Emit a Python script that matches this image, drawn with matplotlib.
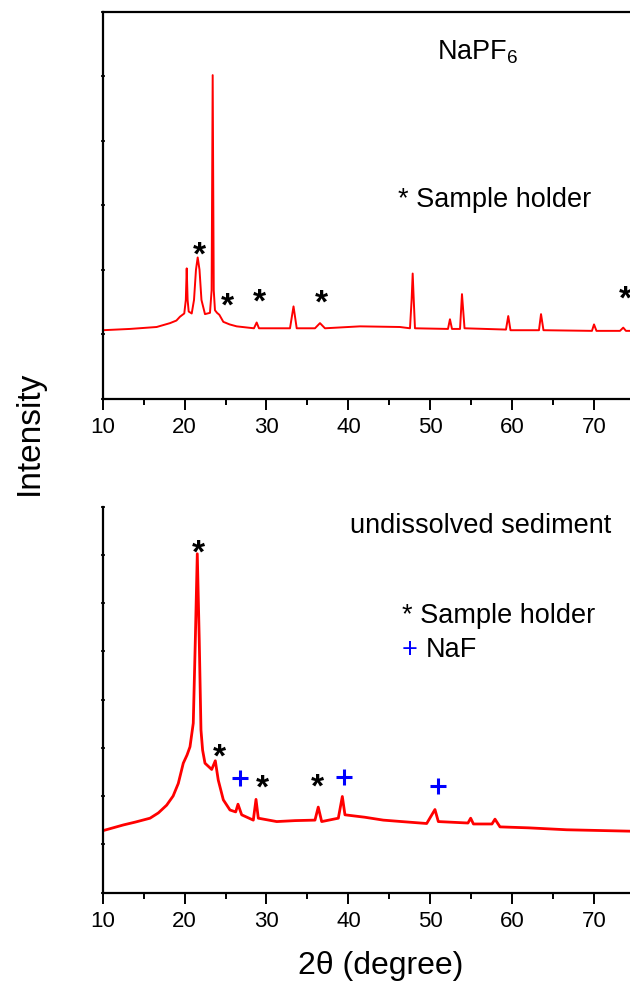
#!/usr/bin/env python3
# -*- coding: utf-8 -*-
"""
XRD patterns of NaPF6 and of the undissolved sediment, two stacked panels.
"""

import matplotlib
matplotlib.use('Agg')
import matplotlib.pyplot as plt
from matplotlib.ticker import MultipleLocator

plt.rcParams['font.family'] = ['Liberation Sans', 'DejaVu Sans']
plt.rcParams['mathtext.fontset'] = 'custom'
plt.rcParams['mathtext.rm'] = 'Liberation Sans'

# top panel: NaPF6 pattern (2theta, intensity in tick units)
top_x = [10.0, 13.33, 16.59, 18.22, 19.0, 19.44, 19.96, 20.15, 20.26, 20.37,
         20.5, 20.87, 21.15, 21.39, 21.6, 21.82, 22.06, 22.49, 23.1, 23.3,
         23.43, 23.56, 23.71, 23.96, 24.24, 24.73, 25.5, 26.36, 28.47, 28.8,
         29.08, 32.87, 33.3, 33.69, 35.92, 36.53, 37.14, 41.42, 46.3, 47.52,
         47.72, 47.85, 47.98, 48.13, 52.16, 52.4, 52.65, 53.63, 53.87, 54.18,
         59.24, 59.52, 59.79, 63.27, 63.52, 63.82, 69.74, 69.99, 70.29, 73.16,
         73.56, 73.89, 80.0]
top_y = [1.06, 1.08, 1.11, 1.17, 1.21, 1.27, 1.32, 1.53, 2.02, 1.53,
         1.35, 1.32, 1.53, 2.0, 2.19, 2.0, 1.53, 1.31, 1.33, 1.68,
         5.02, 1.68, 1.37, 1.33, 1.30, 1.19, 1.15, 1.12, 1.09, 1.18,
         1.09, 1.09, 1.43, 1.09, 1.09, 1.17, 1.09, 1.12, 1.11, 1.09,
         1.53, 1.94, 1.53, 1.09, 1.08, 1.23, 1.08, 1.08, 1.62, 1.09,
         1.07, 1.28, 1.06, 1.06, 1.31, 1.06, 1.05, 1.15, 1.05, 1.05,
         1.10, 1.05, 1.05]
top_star_x = [21.76, 25.18, 29.08, 36.74, 73.77]
top_star_y = [2.38, 1.59, 1.65, 1.63, 1.70]

# bottom panel: undissolved sediment
bot_x = [10.0, 12.52, 14.0, 15.78, 16.8, 17.81, 18.6, 19.23, 19.84, 20.3,
         20.66, 21.06, 21.31, 21.55, 21.79, 22.0, 22.2, 22.49, 23.31, 23.75,
         24.11, 24.73, 25.54, 26.24, 26.52, 26.97, 28.39, 28.72, 29.0, 31.25,
         33.5, 35.92, 36.32, 36.74, 38.77, 39.26, 39.58, 42.0, 44.26, 46.5,
         49.56, 50.57, 50.98, 54.6, 54.93, 55.27, 57.53, 57.9, 58.51, 62.0,
         66.65, 80.0]
bot_y = [1.28, 1.40, 1.46, 1.54, 1.65, 1.81, 2.0, 2.26, 2.68, 2.85,
         3.02, 3.51, 5.23, 7.02, 5.23, 3.37, 2.95, 2.68, 2.55, 2.73,
         2.33, 1.92, 1.71, 1.67, 1.83, 1.61, 1.50, 1.93, 1.54, 1.47,
         1.49, 1.50, 1.77, 1.47, 1.54, 1.99, 1.61, 1.56, 1.50, 1.47,
         1.43, 1.72, 1.47, 1.44, 1.54, 1.42, 1.42, 1.52, 1.36, 1.34,
         1.30, 1.25]
bot_star_x = [21.67, 24.24, 29.49, 36.25]
bot_star_y = [7.24, 3.02, 2.37, 2.38]
naf_x = [26.76, 39.5, 50.98]
naf_y = [2.37, 2.40, 2.21]

xticks_major = [10, 20, 30, 40, 50, 60, 70]

STAR_FS = 24


def style_axes(axes, ymax, top_spine):
    axes.set_xlim(10, 80)
    axes.set_ylim(0, ymax)
    axes.set_xticks(xticks_major)
    axes.xaxis.set_minor_locator(MultipleLocator(5))
    axes.yaxis.set_major_locator(MultipleLocator(1))
    axes.set_yticklabels([])
    axes.tick_params(axis='x', which='major', direction='out', length=8,
                     width=1.4, labelsize=16, pad=5)
    axes.tick_params(axis='x', which='minor', direction='out', length=4,
                     width=1.4)
    axes.tick_params(axis='y', which='major', direction='inout', length=3,
                     width=1.2)
    for side in ['left', 'bottom', 'top']:
        axes.spines[side].set_linewidth(1.6)
    axes.spines['right'].set_visible(False)
    axes.spines['top'].set_visible(top_spine)


def stars(axes, xs, ys):
    for x, y in zip(xs, ys):
        axes.annotate('*', (x, y), xytext=(0, -0.58 * STAR_FS),
                      textcoords='offset points', ha='center', va='baseline',
                      fontsize=STAR_FS, fontweight='bold')


figure = plt.figure(figsize=(6.30, 9.86), dpi=100)

ax_top = figure.add_axes([0.163, 1 - 398.5 / 986, 0.91, 386.5 / 986])
ax_top.plot(top_x, top_y, color='#ff0000', lw=1.4)
style_axes(ax_top, 6, True)
stars(ax_top, top_star_x, top_star_y)
ax_top.text(50.85, 5.26, 'NaPF$_\\mathrm{6}$', fontsize=19.5, va='baseline')
ax_top.text(46.09, 2.97, '* Sample holder', fontsize=19.5, va='baseline')

ax_bot = figure.add_axes([0.163, 1 - 892.5 / 986, 0.91, 386 / 986])
ax_bot.plot(bot_x, bot_y, color='#ff0000', lw=2.0)
style_axes(ax_bot, 8, False)
stars(ax_bot, bot_star_x, bot_star_y)
ax_bot.plot(naf_x, naf_y, '+', color='#0000ff', ms=11, mew=2.2)
ax_bot.text(40.2, 7.46, 'undissolved sediment', fontsize=19.5, va='baseline')
ax_bot.text(46.5, 5.58, '* Sample holder', fontsize=19.5, va='baseline')
ax_bot.text(46.5, 4.89, '+', fontsize=19.5, va='baseline', color='#0000ff')
ax_bot.text(49.47, 4.89, 'NaF', fontsize=19.5, va='baseline')

figure.text(29 / 630, 1 - 433 / 986, 'Intensity', rotation=90, fontsize=24,
            ha='center', va='center')
figure.text(381 / 630, 1 - 966 / 986, '2θ (degree)', fontsize=23,
            ha='center', va='center')

figure.savefig('out.png', dpi=100)
plt.close(figure)
